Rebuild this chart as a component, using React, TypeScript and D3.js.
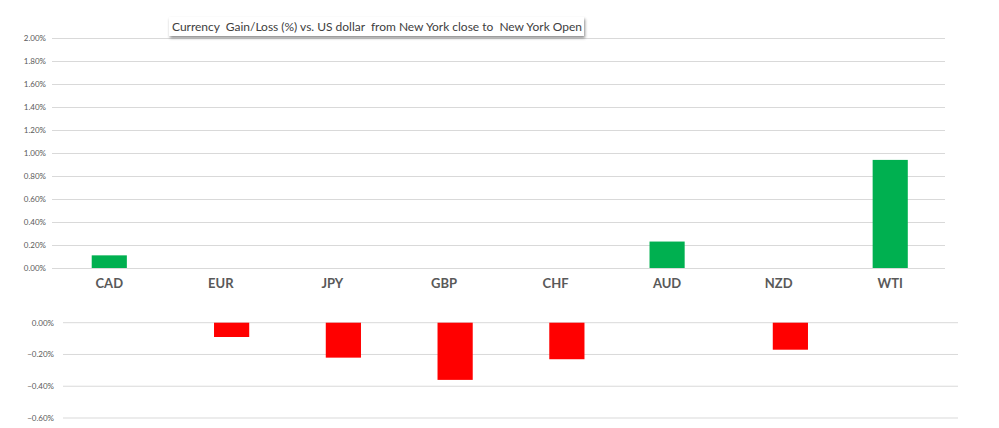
import React from "react";
import * as d3 from "d3";

const categories = ["CAD", "EUR", "JPY", "GBP", "CHF", "AUD", "NZD", "WTI"];
const gains = [0.11, 0, 0, 0, 0, 0.23, 0, 0.94];
const losses = [0, -0.09, -0.22, -0.36, -0.23, 0, -0.17, 0];
const topTicks = [0, 0.2, 0.4, 0.6, 0.8, 1.0, 1.2, 1.4, 1.6, 1.8, 2.0];
const bottomTicks = [0, -0.2, -0.4, -0.6];
const title = "Currency  Gain/Loss (%) vs. US dollar  from New York close to  New York Open";

const FONT = "Lato, 'Open Sans', sans-serif";

export default function App() {
  const W = 999, H = 428;
  const xTop = d3.scaleBand<string>().domain(categories).range([53.5, 946]);
  const yTop = d3.scaleLinear().domain([0, 2]).range([268, 38]);
  const xBot = d3.scaleBand<string>().domain(categories).range([64, 958]);
  const yBot = d3.scaleLinear().domain([-0.6, 0]).range([418, 322.7]);
  const barFrac = 0.315;
  const fmt = (v: number) => (v === 0 ? "0.00%" : d3.format(".2f")(v) + "%");

  return (
    <svg width={W} height={H} style={{ position: "absolute", left: 0, top: 0, background: "#fff" }}>
      <defs>
        <filter id="sh" x="-5%" y="-30%" width="110%" height="180%">
          <feDropShadow dx="1" dy="2" stdDeviation="1.5" floodColor="#000" floodOpacity="0.45" />
        </filter>
      </defs>
      {topTicks.map((t) => (
        <g key={"t" + t}>
          <line x1={52} x2={945} y1={yTop(t) + 0.5} y2={yTop(t) + 0.5} stroke="#d9d9d9" strokeWidth={1} />
          <text x={46} y={yTop(t)} dy="0.35em" textAnchor="end" fontSize={8} fill="#595959" fontFamily={FONT}>
            {fmt(t)}
          </text>
        </g>
      ))}
      {categories.map((c, i) =>
        gains[i] > 0 ? (
          <rect
            key={"g" + c}
            x={xTop(c)! + xTop.bandwidth() * (1 - barFrac) / 2}
            width={xTop.bandwidth() * barFrac}
            y={yTop(gains[i])}
            height={yTop(0) - yTop(gains[i])}
            fill="#00b050"
          />
        ) : null
      )}
      {categories.map((c) => (
        <text
          key={"l" + c}
          x={xTop(c)! + xTop.bandwidth() / 2}
          y={288}
          textAnchor="middle"
          fontSize={13}
          fontWeight="bold"
          fill="#595959"
          fontFamily={FONT}
        >
          {c}
        </text>
      ))}
      {bottomTicks.map((t) => (
        <g key={"b" + t}>
          <line x1={63} x2={958} y1={yBot(t)} y2={yBot(t)} stroke="#d9d9d9" strokeWidth={1} />
          <text x={54} y={yBot(t)} dy="0.35em" textAnchor="end" fontSize={8} fill="#595959" fontFamily={FONT}>
            {fmt(t)}
          </text>
        </g>
      ))}
      {categories.map((c, i) =>
        losses[i] < 0 ? (
          <rect
            key={"r" + c}
            x={xBot(c)! + xBot.bandwidth() * (1 - barFrac) / 2}
            width={xBot.bandwidth() * barFrac}
            y={yBot(0)}
            height={yBot(losses[i]) - yBot(0)}
            fill="#ff0000"
          />
        ) : null
      )}
      <rect x={169} y={17} width={415} height={19} fill="#fff" filter="url(#sh)" />
      <text
        x={172}
        y={31}
        fontSize={12}
        fill="#404040"
        fontFamily={FONT}
        textLength={410}
        lengthAdjust="spacingAndGlyphs"
        style={{ whiteSpace: "pre" }}
      >
        {title}
      </text>
    </svg>
  );
}
